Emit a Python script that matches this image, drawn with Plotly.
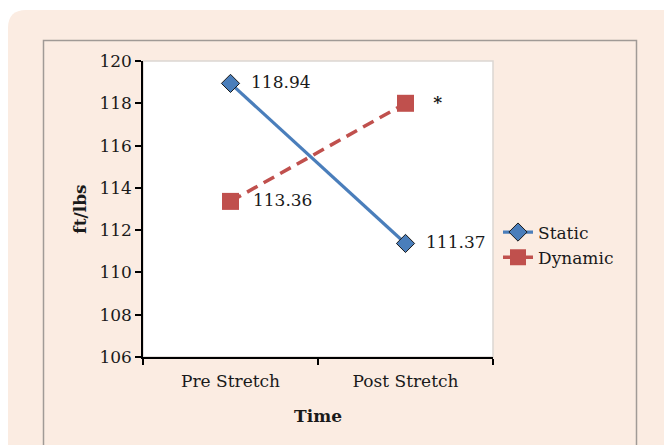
import plotly.graph_objects as go

categories = ["Pre Stretch", "Post Stretch"]
static_vals = [118.94, 111.37]
dynamic_vals = [113.36, 118.0]
static_labels = ["118.94", "111.37"]
dynamic_labels = ["113.36", "<b>*</b>"]
y_ticks = [106, 108, 110, 112, 114, 116, 118, 120]

W, H = 664, 445
L, R, T, B = 143, 493, 61, 357
FONT = "DejaVu Serif"
PANEL = "#fbece2"

def px(x):
    return (x - L) / (R - L)

def py(y):
    return 1 - (y - T) / (B - T)

def rounded(x0, y0, x1, y1, r):
    pts = [
        f"M {px(x0 + r)},{py(y0)}",
        f"L {px(x1 - r)},{py(y0)}",
        f"Q {px(x1)},{py(y0)} {px(x1)},{py(y0 + r)}",
        f"L {px(x1)},{py(y1 - r)}",
        f"Q {px(x1)},{py(y1)} {px(x1 - r)},{py(y1)}",
        f"L {px(x0 + r)},{py(y1)}",
        f"Q {px(x0)},{py(y1)} {px(x0)},{py(y1 - r)}",
        f"L {px(x0)},{py(y0 + r)}",
        f"Q {px(x0)},{py(y0)} {px(x0 + r)},{py(y0)}",
        "Z",
    ]
    return " ".join(pts)

def pad(labels, n):
    return ["\u00a0" * n + s for s in labels]

fig = go.Figure()
fig.add_trace(go.Scatter(
    x=categories, y=static_vals, name="Static",
    mode="lines+markers+text", text=pad(static_labels, 2), textposition="middle right",
    textfont=dict(family=FONT, size=17, color="#1a1a1a"),
    line=dict(color="#4a7ebb", width=3.2),
    marker=dict(symbol="diamond", size=14, color="#4a7ebb",
                line=dict(color="#1a1a1a", width=1)),
))
fig.add_trace(go.Scatter(
    x=categories, y=dynamic_vals, name="Dynamic",
    mode="lines+markers+text", text=["\u00a0\u00a0" + dynamic_labels[0], "\u00a0" * 3 + dynamic_labels[1]],
    textposition="middle right",
    textfont=dict(family=FONT, size=17, color="#1a1a1a"),
    line=dict(color="#c0504d", width=3.5, dash="12px,7px"),
    marker=dict(symbol="square", size=17, color="#c0504d"),
))

shapes = [
    dict(type="path", xref="paper", yref="paper", path=rounded(8, 10, 680, 470, 18),
         fillcolor=PANEL, line=dict(width=0), layer="below"),
    dict(type="rect", xref="paper", yref="paper", x0=px(43.5), x1=px(636.5),
         y0=py(470), y1=py(40.5), fillcolor=PANEL,
         line=dict(color="#a09a96", width=1.5), layer="below"),
    dict(type="rect", xref="paper", yref="paper", x0=0, x1=1, y0=0, y1=1,
         fillcolor="white", line=dict(color="#dcd6d2", width=1.5), layer="below"),
]

fig.update_layout(
    width=W, height=H,
    margin=dict(l=L, r=W - R, t=T, b=H - B),
    paper_bgcolor="white", plot_bgcolor="white",
    font=dict(family=FONT, size=17, color="#1a1a1a"),
    shapes=shapes,
    showlegend=True,
    legend=dict(x=px(498), y=py(245), xanchor="left", yanchor="middle",
                bgcolor="rgba(0,0,0,0)", font=dict(family=FONT, size=17),
                itemwidth=30, tracegroupgap=0),
    xaxis=dict(
        type="category", range=[-0.5, 1.5], tickson="boundaries",
        ticks="outside", ticklen=6, tickcolor="black", tickwidth=1.5,
        showline=True, linecolor="black", linewidth=1.5, showgrid=False,
        tickfont=dict(family=FONT, size=17), ticklabelstandoff=8,
        title=dict(text="<b>Time</b>", font=dict(family=FONT, size=17), standoff=20),
        zeroline=False,
    ),
    yaxis=dict(
        range=[106, 120], tickvals=y_ticks,
        ticks="outside", ticklen=6, tickcolor="black", tickwidth=1.5,
        showline=True, linecolor="black", linewidth=1.5, showgrid=False,
        tickfont=dict(family=FONT, size=17),
        title=dict(text="<b>ft/lbs</b>", font=dict(family=FONT, size=17), standoff=8),
        zeroline=False,
    ),
)

fig.write_html("out.html")
